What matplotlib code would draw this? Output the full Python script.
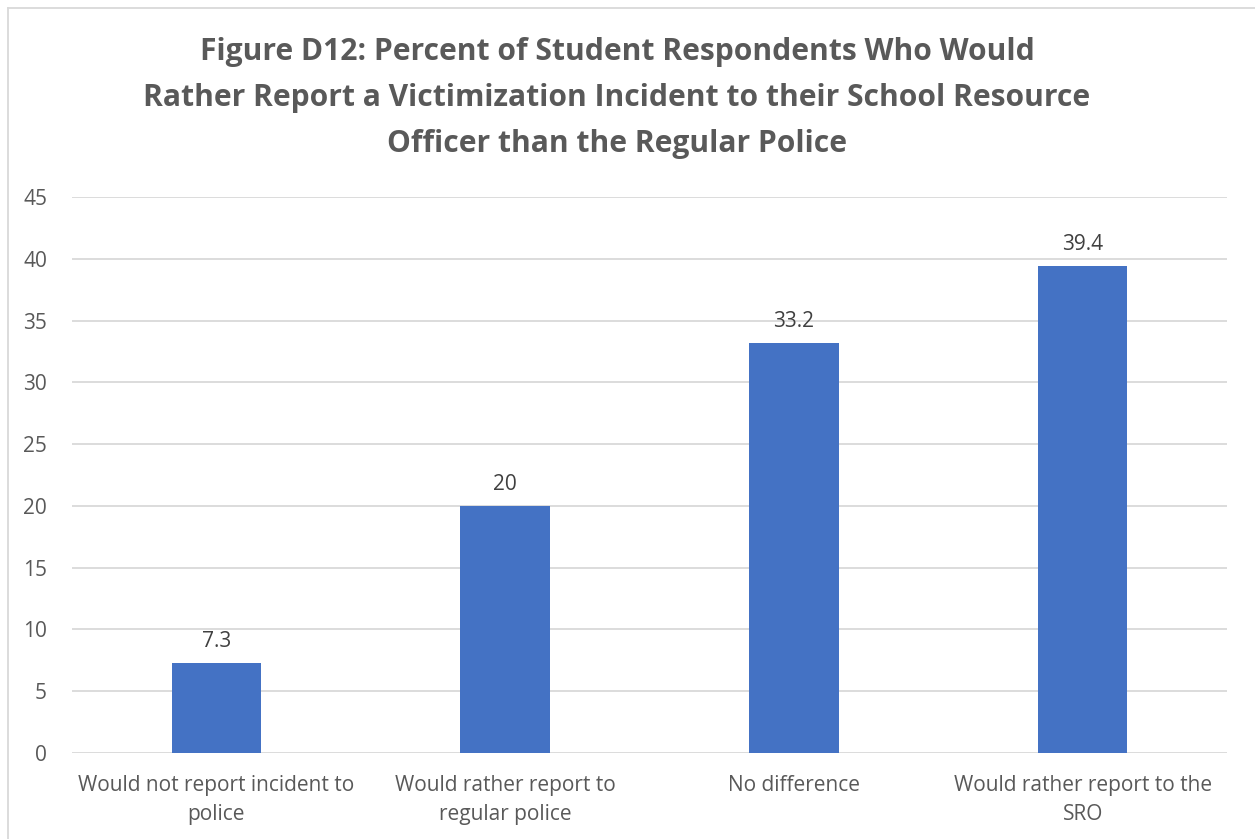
import matplotlib
matplotlib.use("Agg")
import matplotlib.pyplot as plt
from matplotlib.lines import Line2D

categories = ["Would not report incident to\npolice", "Would rather report to\nregular police",
              "No difference", "Would rather report to the\nSRO"]
values = [7.3, 20, 33.2, 39.4]
value_labels = ["7.3", "20", "33.2", "39.4"]
yticks = [0, 5, 10, 15, 20, 25, 30, 35, 40, 45]
title = ("Figure D12: Percent of Student Respondents Who Would\n"
         "Rather Report a Victimization Incident to their School Resource\n"
         "Officer than the Regular Police")

W, H = 1255, 839
fig = plt.figure(figsize=(W / 100, H / 100), dpi=100)
fig.patch.set_facecolor("white")

ax = fig.add_axes([72 / W, 1 - 753 / H, (1227 - 72) / W, (753 - 197) / H])
gray = "#595959"
font = "Open Sans"

x = list(range(len(categories)))
ax.bar(x, values, width=0.31, color="#4472C4", zorder=3)
ax.set_xlim(-0.5, len(categories) - 0.5)
ax.set_ylim(0, 45)
ax.set_yticks(yticks)
ax.set_yticklabels([str(t) for t in yticks], fontsize=15, color=gray, family=font)
ax.set_xticks(x)
ax.set_xticklabels(categories, fontsize=15, color=gray, family=font, linespacing=1.5)
ax.tick_params(axis="both", length=0)
ax.tick_params(axis="y", pad=18)
ax.tick_params(axis="x", pad=16)
ax.grid(axis="y", color="#D9D9D9", linewidth=1.3, zorder=0)
for s in ax.spines.values():
    s.set_visible(False)

for xi, v, lab in zip(x, values, value_labels):
    ax.annotate(lab, (xi, v), xytext=(0, 8), textcoords="offset points",
                ha="center", va="bottom", fontsize=15, color="#404040", family=font)

fig.text(617 / W, 1 - 37 / H, title, ha="center", va="top", fontsize=21.6,
         fontweight="bold", color=gray, family=font, linespacing=1.7)

# chart frame (top and left edges visible)
fig.add_artist(Line2D([7.5 / W, 7.5 / W], [0, 1 - 7.5 / H], transform=fig.transFigure,
                      color="#D9D9D9", linewidth=1.3))
fig.add_artist(Line2D([7.5 / W, 1], [1 - 7.5 / H, 1 - 7.5 / H], transform=fig.transFigure,
                      color="#D9D9D9", linewidth=1.3))

fig.savefig("out.png", dpi=100, facecolor="white")
